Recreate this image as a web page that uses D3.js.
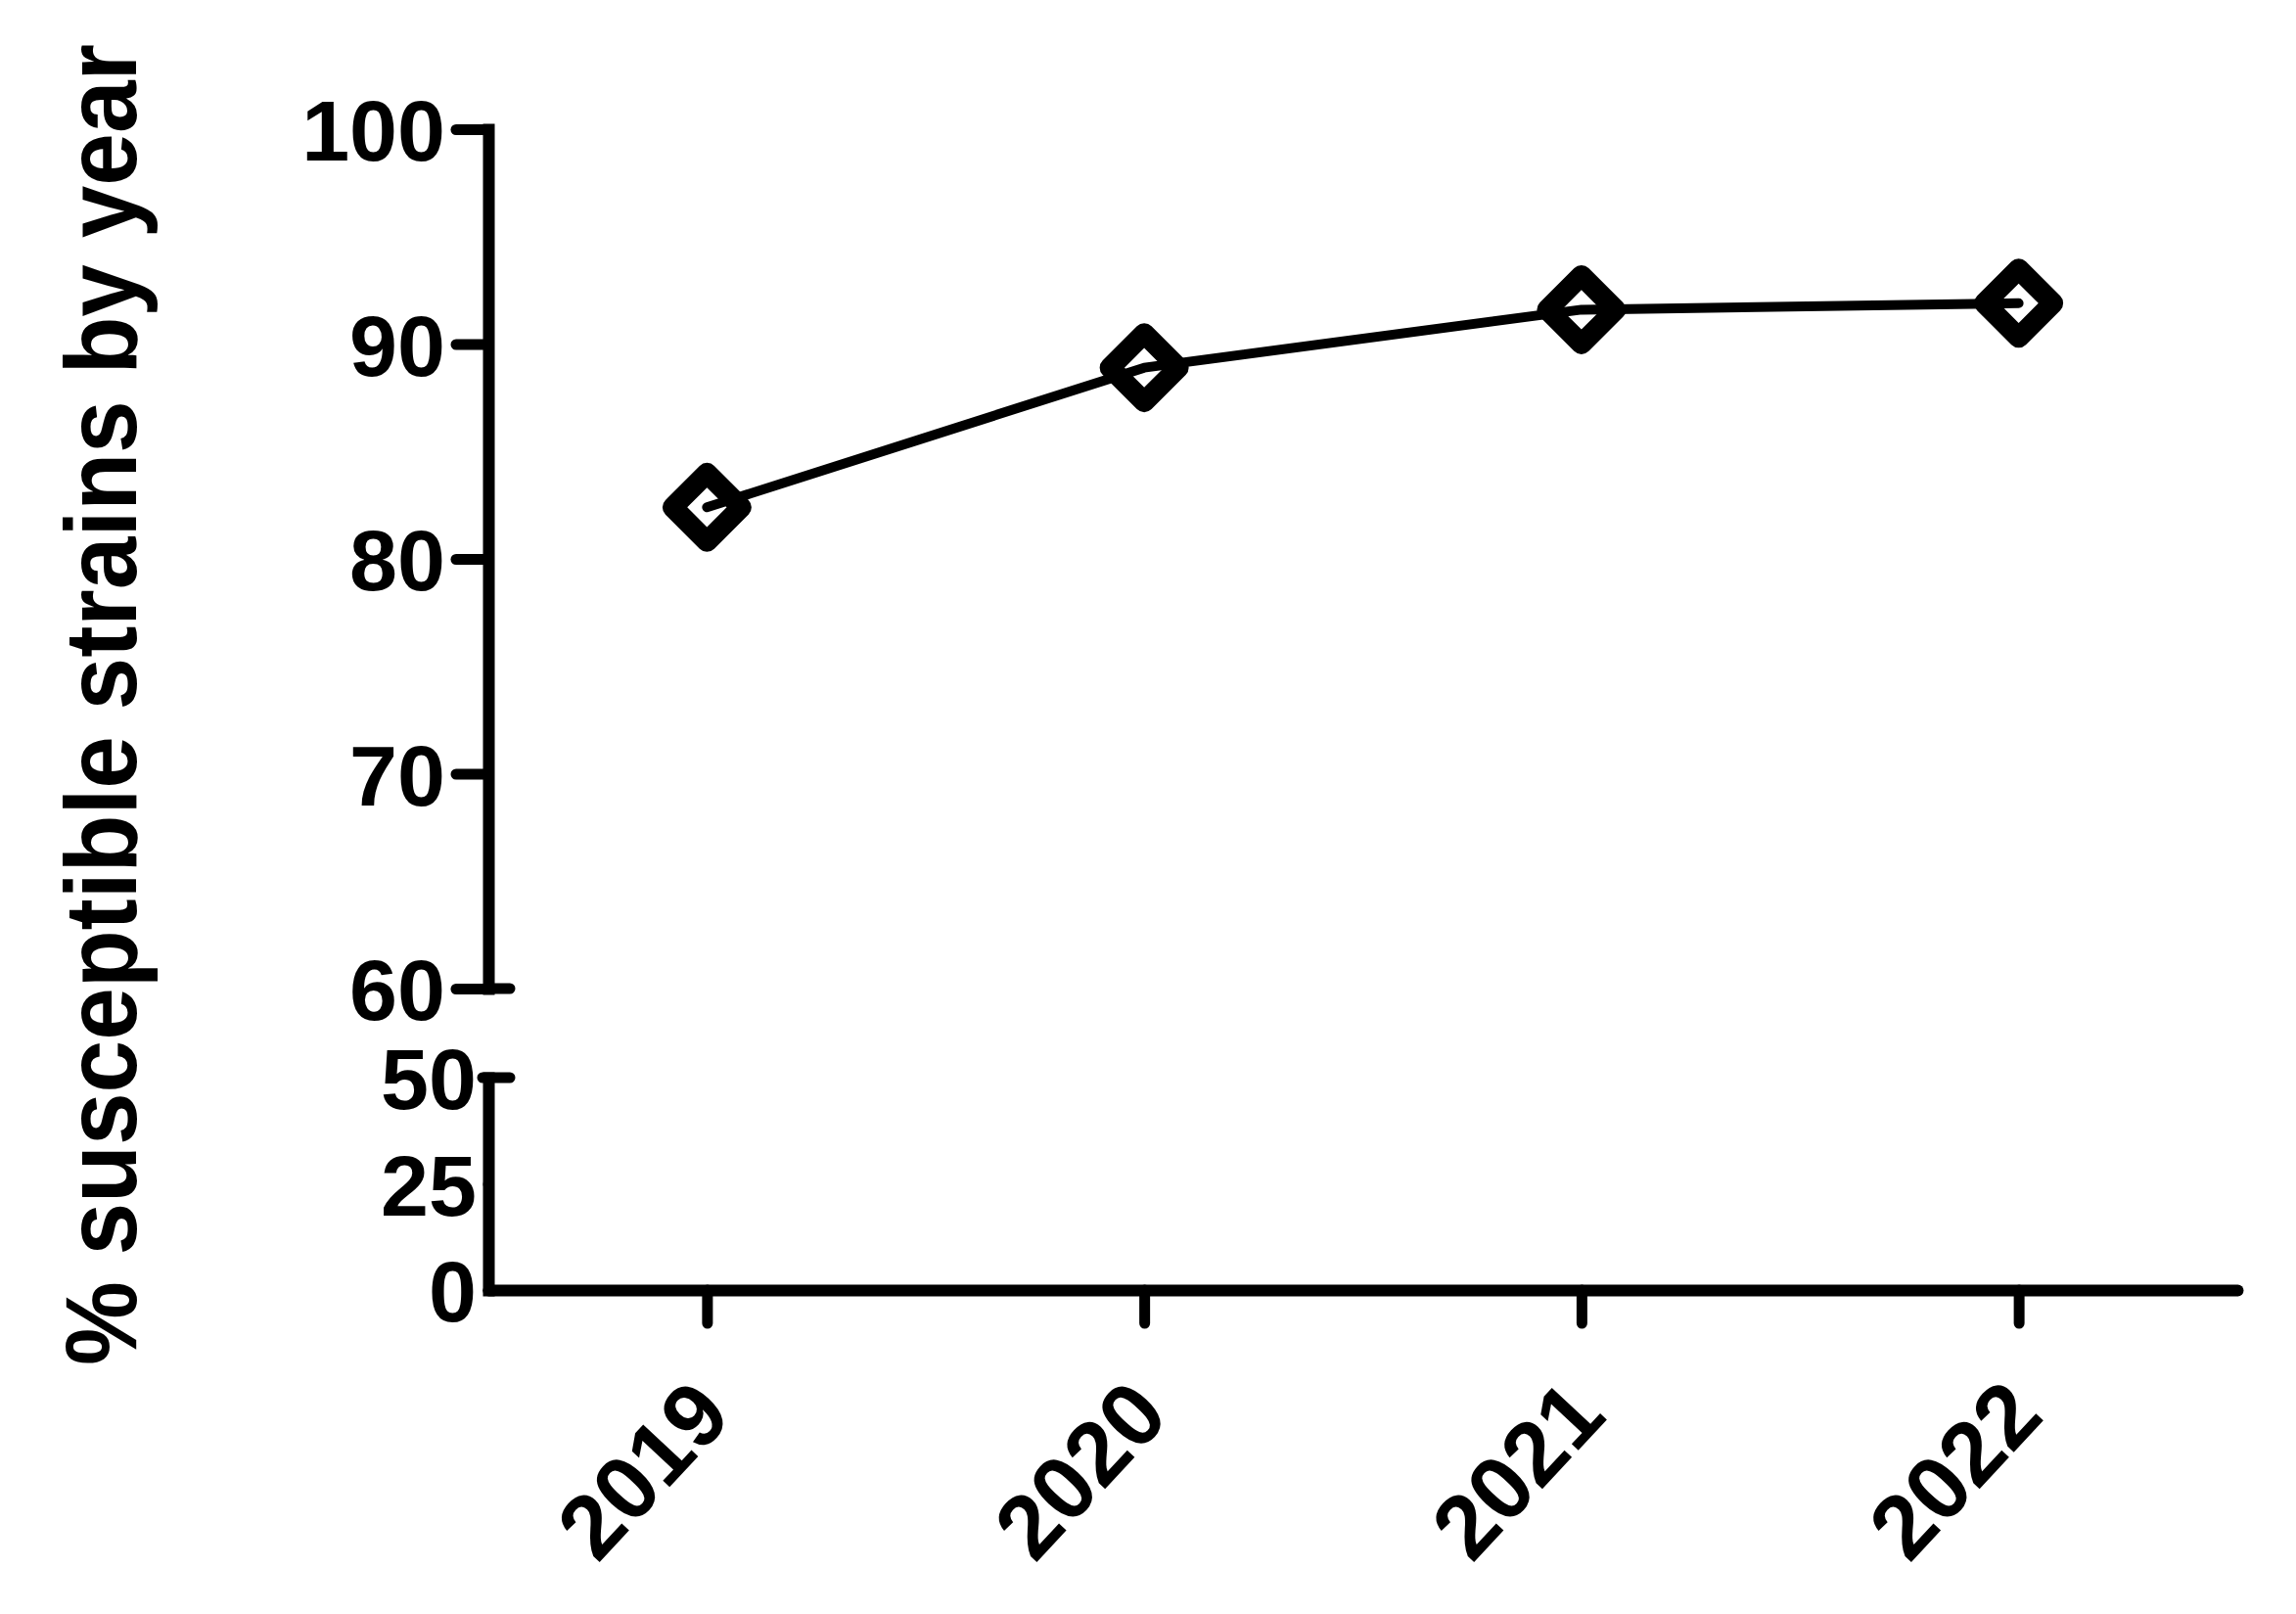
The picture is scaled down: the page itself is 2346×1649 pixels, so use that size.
<!DOCTYPE html>
<html>
<head>
<meta charset="utf-8">
<script src="https://cdn.jsdelivr.net/npm/d3@7"></script>
<style>
  body { margin: 0; background: #fff; }
  svg { display: block; }
  text { font-family: "Liberation Sans", Arial, sans-serif; font-weight: bold; fill: #000; }
</style>
</head>
<body>
<div id="chart"></div>
<script>
// data
var years = ["2019", "2020", "2021", "2022"];
var susceptible = [82.4, 88.9, 91.6, 91.9];
var topTicks = [60, 70, 80, 90, 100];
var bottomTicks = [0, 25, 50];
var yTitle = "% susceptible strains by year";

var width = 2346,
    height = 1649;

var axisX = 499,
    axisRight = 2286,
    baseY = 1318;

var svg = d3.select("#chart").append("svg")
    .attr("width", width)
    .attr("height", height);

svg.append("rect")
    .attr("width", width)
    .attr("height", height)
    .attr("fill", "#fff");

var x = d3.scalePoint()
    .domain(years)
    .range([axisX, axisRight])
    .padding(0.5);

// broken y axis: upper part 60-100, lower part 0-50
var yTop = d3.scaleLinear().domain([60, 100]).range([1010, 132]);
var yBottom = d3.scaleLinear().domain([0, 50]).range([baseY, 1101]);

function styleAxis(g) {
    g.select(".domain")
        .attr("stroke", "#000")
        .attr("stroke-width", 12)
        .attr("stroke-linecap", "square");
    g.selectAll(".tick line")
        .attr("stroke", "#000")
        .attr("stroke-width", 11)
        .attr("stroke-linecap", "round");
    g.selectAll(".tick text")
        .attr("font-size", 88)
        .attr("font-family", null);
}

// upper y axis
var gTop = svg.append("g")
    .attr("transform", "translate(" + axisX + ",0)")
    .call(d3.axisLeft(yTop).tickValues(topTicks).tickSize(33).tickSizeOuter(0).tickPadding(11));
styleAxis(gTop);
gTop.selectAll(".tick text").attr("dy", "0.36em");

// the 60 tick also sticks out to the right
gTop.append("line")
    .attr("x1", 0)
    .attr("x2", 22)
    .attr("y1", yTop(60))
    .attr("y2", yTop(60))
    .attr("stroke", "#000")
    .attr("stroke-width", 11)
    .attr("stroke-linecap", "round");

// lower y axis
var gBottom = svg.append("g")
    .attr("transform", "translate(" + axisX + ",0)")
    .call(d3.axisLeft(yBottom).tickValues(bottomTicks).tickSize(0).tickSizeOuter(0).tickPadding(12));
styleAxis(gBottom);
gBottom.selectAll(".tick text").attr("dy", "0.36em");

gBottom.append("line")
    .attr("x1", -6)
    .attr("x2", 22)
    .attr("y1", yBottom(50))
    .attr("y2", yBottom(50))
    .attr("stroke", "#000")
    .attr("stroke-width", 11)
    .attr("stroke-linecap", "round");

// x axis
var gX = svg.append("g")
    .attr("transform", "translate(0," + baseY + ")")
    .call(d3.axisBottom(x).tickSize(34).tickSizeOuter(0));
styleAxis(gX);
gX.select(".domain").attr("stroke-linecap", "round");
gX.selectAll(".tick text")
    .attr("y", 0)
    .attr("dy", "0.36em")
    .attr("font-size", 92)
    .attr("text-anchor", "end")
    .attr("transform", "translate(3,108) rotate(-47)");

// y title (slightly condensed like the original)
svg.append("text")
    .attr("transform", "translate(139,720) rotate(-90) scale(0.927,1)")
    .attr("text-anchor", "middle")
    .attr("font-size", 104)
    .text(yTitle);

// data line
var line = d3.line()
    .x(function (d, i) { return x(years[i]); })
    .y(function (d) { return yTop(d); });

svg.append("path")
    .datum(susceptible)
    .attr("d", line)
    .attr("fill", "none")
    .attr("stroke", "#000")
    .attr("stroke-width", 10)
    .attr("stroke-linecap", "round")
    .attr("stroke-linejoin", "round");

// open diamond markers
var diamond = d3.symbol().type(d3.symbolSquare).size(2450);

svg.selectAll(".mark")
    .data(susceptible)
    .enter()
    .append("path")
    .attr("class", "mark")
    .attr("d", diamond)
    .attr("transform", function (d, i) {
        return "translate(" + x(years[i]) + "," + yTop(d) + ") rotate(45)";
    })
    .attr("fill", "none")
    .attr("stroke", "#000")
    .attr("stroke-width", 21)
    .attr("stroke-linejoin", "round");
</script>
</body>
</html>
